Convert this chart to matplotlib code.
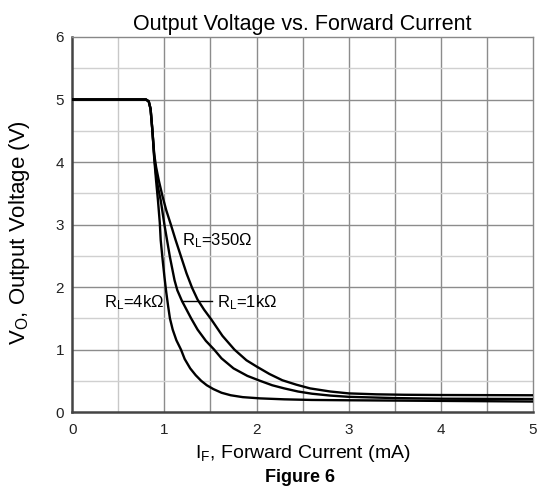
import matplotlib
matplotlib.use('Agg')
import matplotlib.pyplot as plt
import numpy as np

plt.rcParams['font.family'] = ['Liberation Sans', 'DejaVu Sans']
plt.rcParams['mathtext.fontset'] = 'custom'
plt.rcParams['mathtext.rm'] = 'Liberation Sans'
plt.rcParams['mathtext.it'] = 'Liberation Sans'

# Forward current (mA) / output voltage (V) for each load resistor
if_350 = [0, 0.80, 0.83, 0.85, 0.87, 0.89, 0.91, 0.94, 0.98, 1.02, 1.07, 1.12, 1.18,
          1.24, 1.30, 1.36, 1.43, 1.51, 1.63, 1.76, 1.89, 2.0, 2.14, 2.28, 2.43,
          2.58, 2.8, 3.0, 3.3, 3.6, 4.0, 5.0]
vo_350 = [5.0, 5.0, 4.97, 4.85, 4.5, 4.12, 3.92, 3.7, 3.45, 3.23, 3.0, 2.76, 2.49,
          2.22, 1.99, 1.8, 1.64, 1.48, 1.22, 1.0, 0.83, 0.73, 0.61, 0.51, 0.44,
          0.38, 0.33, 0.3, 0.285, 0.278, 0.274, 0.27]

if_1k = [0, 0.80, 0.83, 0.85, 0.87, 0.89, 0.91, 0.93, 0.96, 1.0, 1.06, 1.11, 1.14,
         1.19, 1.29, 1.36, 1.45, 1.54, 1.62, 1.75, 1.9, 2.04, 2.17, 2.3, 2.45,
         2.6, 2.8, 3.0, 3.5, 4.0, 5.0]
vo_1k = [5.0, 5.0, 4.97, 4.85, 4.5, 4.08, 3.8, 3.6, 3.39, 3.0, 2.48, 2.11, 1.95,
         1.78, 1.5, 1.32, 1.14, 1.0, 0.86, 0.7, 0.58, 0.5, 0.43, 0.38, 0.33,
         0.295, 0.265, 0.245, 0.225, 0.215, 0.21]

if_4k = [0, 0.80, 0.83, 0.85, 0.87, 0.89, 0.91, 0.93, 0.95, 0.96, 0.98, 1.0, 1.02,
         1.04, 1.06, 1.09, 1.13, 1.18, 1.22, 1.28, 1.34, 1.40, 1.46, 1.53, 1.62,
         1.72, 1.85, 2.04, 2.3, 2.6, 3.0, 4.0, 5.0]
vo_4k = [5.0, 5.0, 4.97, 4.85, 4.5, 4.05, 3.7, 3.39, 3.03, 2.75, 2.45, 2.17, 1.92,
         1.7, 1.5, 1.32, 1.15, 1.0, 0.85, 0.7, 0.59, 0.5, 0.43, 0.37, 0.31,
         0.27, 0.24, 0.22, 0.205, 0.195, 0.19, 0.18, 0.17]

x_ticks = [0, 1, 2, 3, 4, 5]
y_ticks = [0, 1, 2, 3, 4, 5, 6]

fig = plt.figure(figsize=(5.39, 4.93), dpi=100, facecolor='white')
ax = fig.add_axes([0.134, 0.164, 0.855, 0.761])

# grid: every 0.5 mA, 1 V major / 0.5 V minor
for xv in np.arange(0.5, 5.0, 0.5):
    ax.axvline(xv, color='#c8c8c8' if xv == 0.5 else '#8c8c8c', lw=1.0, zorder=1)
for yv in np.arange(0.5, 6.0, 0.5):
    ax.axhline(yv, color='#8c8c8c' if yv % 1 == 0 else '#d0d0d0', lw=1.0, zorder=1)

for xs, ys in [(if_350, vo_350), (if_1k, vo_1k), (if_4k, vo_4k)]:
    ax.plot(xs, ys, color='black', lw=1.7, zorder=3, solid_joinstyle='round')

ax.set_xlim(0, 5)
ax.set_ylim(0, 6)
ax.set_xticks(x_ticks)
ax.set_yticks(y_ticks)
ax.tick_params(axis='x', length=0, labelsize=11, pad=8, colors='#222222')
ax.tick_params(axis='y', length=0, labelsize=11, pad=6, colors='#222222')

for side in ['left', 'bottom']:
    ax.spines[side].set_color('#444444')
    ax.spines[side].set_linewidth(1.8)
for side in ['top', 'right']:
    ax.spines[side].set_color('#888888')
    ax.spines[side].set_linewidth(1.0)

# curve labels
ax.text(1.19, 2.75, r'R$_\mathrm{L}$=350Ω', fontsize=12, va='center', ha='left', zorder=4)
ax.text(0.35, 1.75, r'R$_\mathrm{L}$=4kΩ', fontsize=12, va='center', ha='left', zorder=4)
ax.text(1.57, 1.75, r'R$_\mathrm{L}$=1kΩ', fontsize=12, va='center', ha='left', zorder=4)
ax.plot([1.19, 1.52], [1.78, 1.78], color='black', lw=1.0, zorder=4)

ax.set_title('Output Voltage vs. Forward Current', fontsize=15.5, pad=5)
ax.set_xlabel(r'I$_\mathrm{F}$, Forward Current (mA)', fontsize=14, labelpad=4)
ax.set_ylabel(r'V$_\mathrm{O}$, Output Voltage (V)', fontsize=16)
ax.yaxis.set_label_coords(-0.088, 0.48)
fig.text(0.556, 0.032, 'Figure 6', fontsize=13, fontweight='bold', ha='center', va='center')

fig.savefig('out.png', dpi=100, facecolor='white')
